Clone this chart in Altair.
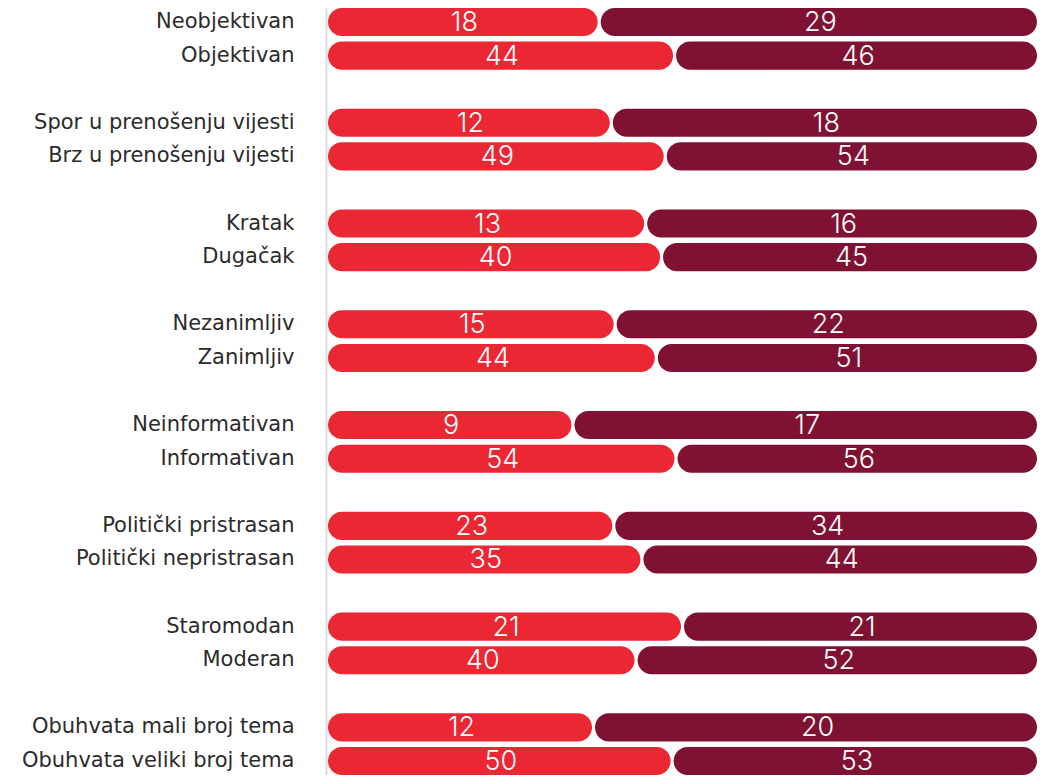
import altair as alt
import pandas as pd

labels = [
    "Neobjektivan", "Objektivan",
    "Spor u prenošenju vijesti", "Brz u prenošenju vijesti",
    "Kratak", "Dugačak",
    "Nezanimljiv", "Zanimljiv",
    "Neinformativan", "Informativan",
    "Politički pristrasan", "Politički nepristrasan",
    "Staromodan", "Moderan",
    "Obuhvata mali broj tema", "Obuhvata veliki broj tema",
]
series_a = [18, 44, 12, 49, 13, 40, 15, 44, 9, 54, 23, 35, 21, 40, 12, 50]
series_b = [29, 46, 18, 54, 16, 45, 22, 51, 17, 56, 34, 44, 21, 52, 20, 53]
series_names = ["Serija 1", "Serija 2"]
colors = ["#EA2733", "#7F1233"]

rows = []
for lab, a, b in zip(labels, series_a, series_b):
    rows.append(dict(label=lab, series=series_names[0], order=0, value=a))
    rows.append(dict(label=lab, series=series_names[1], order=1, value=b))
df = pd.DataFrame(rows)

# category domain with blank spacer rows between pairs
domain = []
for g in range(0, len(labels), 2):
    domain += labels[g:g + 2]
    if g + 2 < len(labels):
        domain.append(" " * (g // 2 + 1))

y_scale = alt.Scale(domain=domain, paddingInner=0.165, paddingOuter=0)
y_axis = alt.Axis(
    title=None, ticks=False, labelPadding=32, labelFont="DejaVu Sans",
    labelFontSize=21, labelColor="#2b2b2b", domainColor="#dddddd",
    domainWidth=2, offset=2, minExtent=318, maxExtent=318, labelLimit=330,
)
x_scale = alt.Scale(domain=[0, 1], nice=False, zero=True)

base = alt.Chart(df).transform_joinaggregate(
    total="sum(value)", groupby=["label"]
).transform_window(
    cum="sum(value)", groupby=["label"], sort=[alt.SortField("order")], frame=[None, 0]
).transform_calculate(
    start="(datum.cum - datum.value) / datum.total",
    end="datum.cum / datum.total",
    mid="(datum.cum - datum.value / 2) / datum.total",
)

bars = base.mark_bar(cornerRadius=14, x2Offset=-3).encode(
    x=alt.X("start:Q", scale=x_scale, axis=None),
    x2="end:Q",
    y=alt.Y("label:N", scale=y_scale, axis=y_axis),
    color=alt.Color("series:N", scale=alt.Scale(domain=series_names, range=colors), legend=None),
)

texts = base.mark_text(
    color="white", font="Inter", fontSize=27, fontWeight=300, baseline="middle", dy=1
).encode(
    x=alt.X("mid:Q", scale=x_scale, axis=None),
    y=alt.Y("label:N", scale=y_scale, axis=y_axis),
    text="value:Q",
)

chart = alt.layer(bars, texts).properties(
    width=1032, height=767, padding=0, background="white",
    autosize=alt.AutoSizeParams(type="fit", contains="padding"),
).configure_view(stroke=None)

chart.save("out.html", embed_options={"renderer": "svg", "actions": False})
